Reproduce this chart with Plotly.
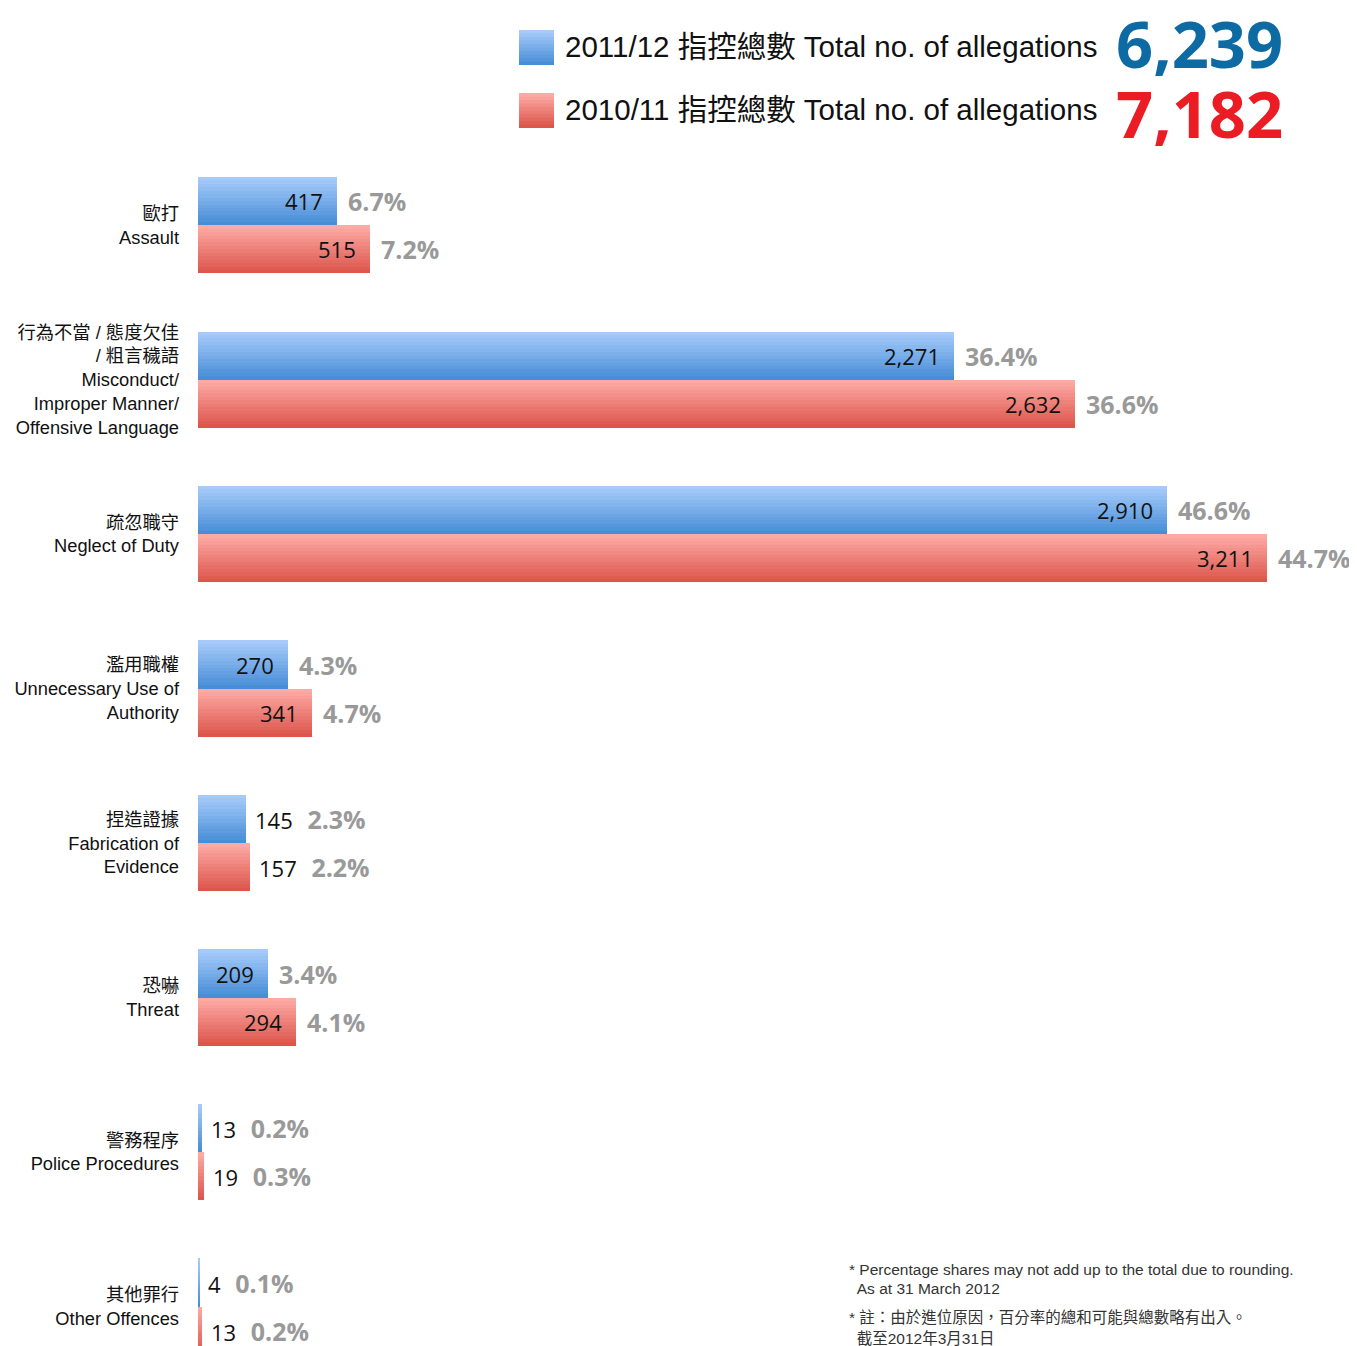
import plotly.graph_objects as go

# --- data -----------------------------------------------------------------
categories = [
    "歐打<br>Assault",
    "行為不當 / 態度欠佳<br>/ 粗言穢語<br>Misconduct/<br>Improper Manner/<br>Offensive Language",
    "疏忽職守<br>Neglect of Duty",
    "濫用職權<br>Unnecessary Use of<br>Authority",
    "捏造證據<br>Fabrication of<br>Evidence",
    "恐嚇<br>Threat",
    "警務程序<br>Police Procedures",
    "其他罪行<br>Other Offences",
]
counts_2011 = [417, 2271, 2910, 270, 145, 209, 13, 4]
counts_2010 = [515, 2632, 3211, 341, 157, 294, 19, 13]
pct_2011 = [6.7, 36.4, 46.6, 4.3, 2.3, 3.4, 0.2, 0.1]
pct_2010 = [7.2, 36.6, 44.7, 4.7, 2.2, 4.1, 0.3, 0.2]
series_names = ["2011/12", "2010/11"]
totals = [6239, 7182]

# --- style ------------------------------------------------------------------
PAGE = 8              # the page body adds this much on the top and left
W, H = 1357 - PAGE, 1346 - PAGE
M_L, M_T = 198 - PAGE, 148 - PAGE
BLUE = ((0xa6, 0xcb, 0xfa), (0x48, 0x8e, 0xd7))
RED = ((0xfd, 0xaa, 0xa5), (0xdc, 0x56, 0x4b))
TOTAL_COLORS = ["#0d6aa3", "#ec1c24"]
LABEL_FONT = "Liberation Sans, Arial, Noto Sans CJK TC, sans-serif"
NUM_FONT = "Open Sans, Noto Sans, sans-serif"
PCT_COLOR = "#999999"
HALF = 0.312          # bar height of one series, in category units
SLICES = 14           # slices used to fake the vertical gradient
INSIDE_MIN = 200      # counts below this get their label outside the bar


def mix(c, t):
    a, b = c
    return "rgb(%d,%d,%d)" % tuple(round(a[i] + (b[i] - a[i]) * t) for i in range(3))


# page pixel -> paper coordinate
def px_x(x):
    return (x - PAGE - M_L) / (W - M_L)


def px_y(y):
    return (H - (y - PAGE)) / (H - M_T)


fig = go.Figure()

# gradient bars: each series drawn as thin horizontal slices
for values, grad, base in [(counts_2011, BLUE, -HALF), (counts_2010, RED, 0.0)]:
    step = HALF / SLICES
    for k in range(SLICES):
        fig.add_trace(go.Bar(
            y=list(range(len(categories))),
            x=values,
            orientation="h",
            width=step * 1.15 if k < SLICES - 1 else step,
            offset=base + k * step,
            marker=dict(color=mix(grad, k / (SLICES - 1)), line_width=0),
            showlegend=False,
            hoverinfo="skip",
        ))

annotations = []
for values, pcts, sign in [(counts_2011, pct_2011, -1), (counts_2010, pct_2010, 1)]:
    for i, (v, p) in enumerate(zip(values, pcts)):
        yc = i + sign * HALF / 2
        label = f"{v:,}"
        pct = f"{p:.1f}%"
        if v >= INSIDE_MIN:
            annotations.append(dict(
                x=v, y=yc, xref="x", yref="y", text=label, showarrow=False,
                xanchor="right", xshift=-12, font=dict(family=NUM_FONT, size=22, color="#111"),
            ))
            annotations.append(dict(
                x=v, y=yc, xref="x", yref="y", text=f"<b>{pct}</b>", showarrow=False,
                xanchor="left", xshift=9, font=dict(family=NUM_FONT, size=25, color=PCT_COLOR),
            ))
        else:
            annotations.append(dict(
                x=v, y=yc, xref="x", yref="y", showarrow=False,
                text=(f"{label}\u2002\u2009<b><span style='color:{PCT_COLOR};font-size:25px'>"
                      f"{pct}</span></b>"),
                xanchor="left", xshift=7, font=dict(family=NUM_FONT, size=22, color="#111"),
            ))

# header legend with grand totals
shapes = []
legend_rows = [47, 110]
total_rows = [43, 113]
for j, (name, total, grad) in enumerate(zip(series_names, totals, [BLUE, RED])):
    yc = legend_rows[j]
    top, bottom = yc - 17, yc + 18
    n = 10
    for k in range(n):
        y0 = top + (bottom - top) * k / n
        y1 = top + (bottom - top) * (k + 1.2) / n if k < n - 1 else bottom
        shapes.append(dict(
            type="rect", xref="paper", yref="paper",
            x0=px_x(519), x1=px_x(554), y0=px_y(y1), y1=px_y(y0),
            fillcolor=mix(grad, k / (n - 1)), line_width=0, layer="above",
        ))
    annotations.append(dict(
        x=px_x(563), y=px_y(yc), xref="paper", yref="paper", showarrow=False,
        xanchor="left", yanchor="middle", text=f"{name} 指控總數 Total no. of allegations",
        font=dict(family=LABEL_FONT, size=29.5, color="#111"),
    ))
    annotations.append(dict(
        x=px_x(1285), y=px_y(total_rows[j]), xref="paper", yref="paper", showarrow=False,
        xanchor="right", yanchor="middle", text=f"<b>{total:,}</b>",
        font=dict(family=NUM_FONT, size=65, color=TOTAL_COLORS[j]),
    ))

# footnotes
notes = [
    (1269, "* Percentage shares may not add up to the total due to rounding."),
    (1288, "\u2002As at 31 March 2012"),
    (1317, "* 註：由於進位原因，百分率的總和可能與總數略有出入。"),
    (1338, "\u2002截至2012年3月31日"),
]
for y, txt in notes:
    annotations.append(dict(
        x=px_x(847), y=px_y(y), xref="paper", yref="paper", showarrow=False,
        xanchor="left", yanchor="middle", text=txt,
        font=dict(family=LABEL_FONT, size=15.5, color="#333"),
    ))

fig.update_layout(
    width=W, height=H,
    margin=dict(l=M_L, r=0, t=M_T, b=0, pad=0),
    paper_bgcolor="white", plot_bgcolor="white",
    barmode="overlay",
    bargap=0,
    xaxis=dict(range=[0, 3480], visible=False, fixedrange=True),
    yaxis=dict(
        range=[7.255, -0.5],
        tickmode="array",
        tickvals=list(range(len(categories))),
        ticktext=categories,
        showgrid=False, zeroline=False, showline=False,
        ticks="", ticklabelstandoff=18,
        tickfont=dict(family=LABEL_FONT, size=18.3, color="#111"),
        fixedrange=True,
    ),
    annotations=annotations,
    shapes=shapes,
    showlegend=False,
)

fig.write_html("out.html")
